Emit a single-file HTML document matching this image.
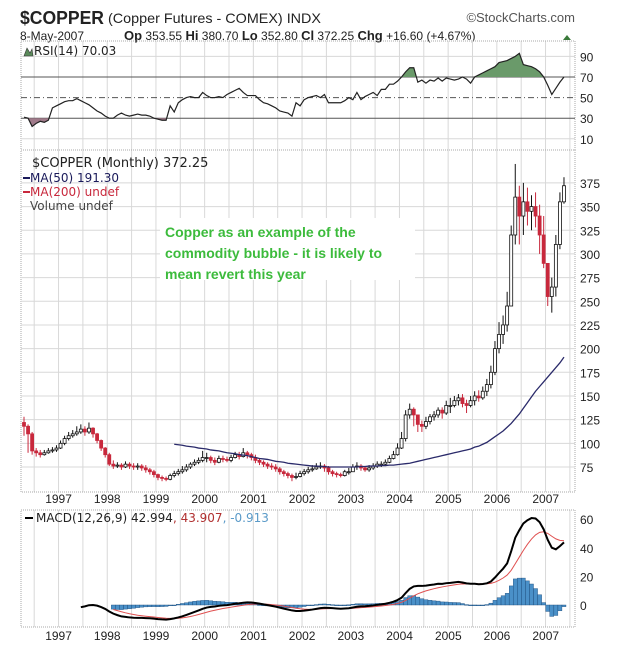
<!DOCTYPE html>
<html><head><meta charset="utf-8">
<style>
html,body{margin:0;padding:0;background:#fff;}
body{width:620px;height:650px;overflow:hidden;font-family:"Liberation Sans",sans-serif;}
svg text{font-family:"Liberation Sans",sans-serif;}
.mono{font-family:"DejaVu Sans",sans-serif;}
</style></head>
<body>
<svg id="chart" width="620" height="650" viewBox="0 0 620 650" xmlns="http://www.w3.org/2000/svg">
<text x="20" y="24" font-size="18" font-weight="bold" fill="#222" textLength="84" lengthAdjust="spacingAndGlyphs">$COPPER</text>
<text x="108" y="23" font-size="14" fill="#222" textLength="213" lengthAdjust="spacingAndGlyphs">(Copper Futures - COMEX) INDX</text>
<text x="575" y="22" font-size="13" fill="#555" text-anchor="end">©StockCharts.com</text>
<text x="20" y="40" font-size="12" fill="#222">8-May-2007</text>
<text x="124" y="40" font-size="12" fill="#222"><tspan font-weight="bold" font-size="13">Op</tspan> 353.55 <tspan font-weight="bold" font-size="13">Hi</tspan> 380.70 <tspan font-weight="bold" font-size="13">Lo</tspan> 352.80 <tspan font-weight="bold" font-size="13">Cl</tspan> 372.25 <tspan font-weight="bold" font-size="13">Chg</tspan> +16.60 (+4.67%)</text>
<polygon points="563,40 571,40 567,35" fill="#3a7a3a"/>
<g id="rsiG"></g>
<g id="mainG"></g>
<g id="macdG"></g>
</svg>
<script>
// ---- data (monthly, starting Apr 1996) ----
const startOpen = 122;
const closes = [
118,110,92,90,88,90,92,93,95,
100,105,108,110,112,115,112,116,110,103,95,88,
78,76,77,75,78,76,75,76,74,72,70,67,
64,63,62,66,68,70,72,75,78,80,82,85,
85,82,80,84,83,82,85,88,86,90,88,85,
82,80,78,76,75,73,70,68,66,64,65,68,
70,72,73,75,76,74,70,68,67,66,70,70,
75,76,74,72,74,76,78,78,80,84,88,95,
105,130,136,130,120,118,123,128,130,135,132,140,
140,145,148,142,140,145,150,148,155,162,175,200,
215,225,245,320,360,340,355,345,350,340,320,290,
255,265,310,355,372];
const highs = [
128,120,112,95,93,93,95,96,98,
103,108,112,114,118,120,118,122,117,111,104,96,
90,82,80,79,81,80,79,79,78,77,74,72,
68,66,65,68,71,73,76,78,80,83,85,92,
90,87,85,87,87,86,88,91,91,95,92,90,
88,84,82,80,79,78,75,72,70,68,69,71,
73,75,77,79,80,78,76,72,70,69,72,74,
78,80,78,76,77,79,81,81,83,87,92,100,
112,135,142,138,128,124,128,131,134,138,138,145,
148,150,152,152,146,150,155,156,160,168,182,208,
228,235,260,330,395,372,375,370,362,365,352,340,
290,275,320,365,381];
const lows = [
108,90,88,86,85,87,89,90,91,
94,98,103,106,108,110,108,110,106,100,92,85,
76,73,74,72,74,73,72,72,71,69,67,64,
61,60,60,61,64,66,68,70,73,76,78,80,
80,79,77,79,80,80,80,84,83,85,84,82,
79,77,75,73,72,70,67,65,63,60,62,64,
66,68,70,72,73,70,67,65,64,64,65,67,
70,72,71,70,70,72,74,75,76,79,83,87,
94,102,126,118,112,112,115,120,124,127,126,130,
132,138,140,138,132,138,140,144,146,150,158,172,
195,205,218,245,310,310,320,330,325,328,300,285,
245,238,255,305,353];
const ma50Start = 37;
const ma50 = [99,98.5,98,97,96.5,96,95,94.5,94,93,92.5,92,
91,90,89.5,89,88,87.5,87,86,85,84,83.5,83,
82,81,80.5,80,79,78.5,78,77.5,77,76.5,76,76,
75.5,75.5,75,75,75,75,75,75,75,75,75.5,75.5,
76,76,76,76.5,76.5,77,77,77.5,78,78.5,79,80,
81,82,83,84,85,86,87,88,89,90,91,92,
93,94,96,97,99,101,104,107,110,113,117,121,
126,131,137,143,149,155,160,165,170,175,180,185,191];
const rsi = [31,30,22,25,27,26,28,40,42,44,46,47,47,49,47,45,43,40,37,35,32,30,30,33,35,33,32,33,34,33,33,32,30,29,28,28,42,36,45,48,50,51,50,50,55,52,50,50,51,50,53,55,57,59,55,52,52,52,48,45,44,42,40,37,36,35,32,45,42,48,50,51,52,50,53,45,45,45,45,47,50,48,55,48,51,53,55,52,58,58,63,63,66,
70,75,79,79,65,67,64,67,66,69,66,69,68,67,68,70,68,
64,70,72,74,76,78,80,84,85,86,88,90,93,82,81,80,78,75,70,62,53,59,65,70];
const yearLabels = ['1997','1998','1999','2000','2001','2002','2003','2004','2005','2006','2007'];
const priceTicks = [75,100,125,150,175,200,225,250,275,300,325,350,375];
const rsiTicks = [10,30,50,70,90];
const macdTicks = [0,20,40,60];

// ---- scales ----
const L=21, R=575;
const xM = m => 24 + m*4.06;
const xYear = i => xM(9 + i*12) - 2;
const yP = p => 467 - (p-75)*0.947;
const yR = v => 77 + (70-v)*1.03;
const yD = v => 605 - v*1.43;
const NS='http://www.w3.org/2000/svg';
function mk(tag, attrs, parent){const e=document.createElementNS(NS,tag);for(const k in attrs)e.setAttribute(k,attrs[k]);parent.appendChild(e);return e;}

const rsiG=document.getElementById('rsiG'), mainG=document.getElementById('mainG'), macdG=document.getElementById('macdG');

function panel(g, top, bot, name){
  for(let i=-1;i<22;i++){
    const x = xYear(0) + i*24.35;
    if(x<=L||x>=R) continue;
    const ln=mk('line',{x1:x,x2:x,y1:top,y2:bot,stroke:'#d8d8d8','stroke-width':1},g);
    
    
  }
  const fr=mk('rect',{x:L,y:top,width:R-L,height:bot-top,fill:'none',stroke:'#aaa','stroke-width':1,'stroke-dasharray':'1,1'},g);
  
  
}

// ---- RSI panel ----
panel(rsiG,41,150,'rsi');
rsiTicks.forEach(t=>{
  const y=yR(t);
  const solid=(t===30||t===70), dash=(t===50);
  const ln=mk('line',{x1:L,x2:R,y1:y,y2:y,stroke:(solid||dash)?'#555':'#d8d8d8','stroke-width':1},rsiG);
  if(dash) ln.setAttribute('stroke-dasharray','6,3,1,3');
  
  
  const tx=mk('text',{x:580,y:y+5,'font-size':12,fill:'#222'},rsiG);
  tx.textContent=t;
  
  
});
(function(){
  const pts=rsi.map((v,i)=>[xM(i),yR(v)]);
  const fillPoly=(cond,thr,color,nm)=>{
    let seg=[];
    const flush=()=>{ if(seg.length>1){
        const y0=yR(thr);
        const d='M'+seg[0][0]+','+y0+' '+seg.map(p=>'L'+p[0]+','+p[1]).join(' ')+' L'+seg[seg.length-1][0]+','+y0+'Z';
        const p=mk('path',{d:d,fill:color,stroke:'none'},rsiG);
        
        
      } seg=[]; };
    for(let i=0;i<rsi.length;i++){
      if(cond(rsi[i])){
        if(!seg.length && i>0){const a=rsi[i-1],b=rsi[i];const t=(thr-a)/(b-a);seg.push([xM(i-1)+t*4.06,yR(thr)]);}
        seg.push(pts[i]);
      } else if(seg.length){const a=rsi[i-1],b=rsi[i];const t=(thr-a)/(b-a);seg.push([xM(i-1)+t*4.06,yR(thr)]);flush();}
    }
    flush();
  };
  fillPoly(v=>v>70,70,'#6a9a6a','rsi-overbought-fill');
  fillPoly(v=>v<30,30,'#a07a8a','rsi-oversold-fill');
})();
const rsiLine=mk('polyline',{points:rsi.map((v,i)=>xM(i)+','+yR(v)).join(' '),fill:'none',stroke:'#222','stroke-width':1.2},rsiG);


const rsiLbl=mk('text',{x:34,y:55,'font-size':12,fill:'#222',class:'mono'},rsiG);
rsiLbl.textContent='RSI(14) 70.03';


const rsiIc=mk('path',{d:'M24,56 L27,48 L30,53 L32,49 L33,56Z',fill:'#5a8a5a',stroke:'#333','stroke-width':0.6},rsiG);



// ---- Price panel ----
panel(mainG,150,492,'price');
priceTicks.forEach(t=>{
  const y=yP(t);
  const ln=mk('line',{x1:L,x2:R,y1:y,y2:y,stroke:'#d8d8d8','stroke-width':1},mainG);
  
  
  const tx=mk('text',{x:580,y:y+5,'font-size':12,fill:'#222'},mainG);
  tx.textContent=t;
  
  
});
const annBg=mk('rect',{x:160,y:218,width:255,height:62,fill:'#fff'},mainG);


['Copper as an example of the','commodity bubble - it is likely to','mean revert this year'].forEach((s,i)=>{
  const t=mk('text',{x:165,y:237+i*21,'font-size':14,'font-weight':'bold',fill:'#3cbb3c'},mainG);
  t.textContent=s;
  
  
});
closes.forEach((c,i)=>{
  const o = i===0?startOpen:closes[i-1];
  const x=xM(i);
  const down = c<o;
  const col = down?'#c8283c':'#111';
  const w=mk('line',{x1:x,x2:x,y1:yP(highs[i]),y2:yP(lows[i]),stroke:col,'stroke-width':1},mainG);
  
  
  const top=yP(Math.max(o,c)), bot=yP(Math.min(o,c));
  const b=mk('rect',{x:x-1.5,y:top,width:3,height:Math.max(1,bot-top),fill:down?col:'#fff',stroke:col,'stroke-width':0.8},mainG);
  
  
});
const maLine=mk('polyline',{points:ma50.map((v,i)=>xM(i+ma50Start)+','+yP(v)).join(' '),fill:'none',stroke:'#2a2a6a','stroke-width':1.3},mainG);


[['$COPPER (Monthly) 372.25','#222',167],['MA(50) 191.30','#1a1a5a',182],['MA(200) undef','#c8283c',196],['Volume undef','#444',210]].forEach((a,i)=>{
  const t=mk('text',{x:i===0?32:30,y:a[2],'font-size':i===0?13:12,fill:a[1],class:'mono'},mainG);
  t.textContent=a[0];
  
  
  if(i===1||i===2){
    const m=mk('line',{x1:23,x2:30,y1:a[2]-4,y2:a[2]-4,stroke:a[1],'stroke-width':2},mainG);
    
    
  }
});
yearLabels.forEach((s,i)=>{
  [503,640].forEach(yy=>{
    const t=mk('text',{x:xYear(i),y:yy,'font-size':12,fill:'#222','text-anchor':'middle'},mainG);
    t.textContent=s;
    
    
  });
});

// ---- MACD panel ----
panel(macdG,510,627,'macd');
function ema(arr,n){const k=2/(n+1);const out=[];let e=arr[0];arr.forEach((v,i)=>{e=i===0?v:v*k+e*(1-k);out.push(e);});return out;}
const e12=ema(closes,12), e26=ema(closes,26);
const macd=closes.map((_,i)=>e12[i]-e26[i]);
const sig=ema(macd,9);
const hist=macd.map((v,i)=>v-sig[i]);
macdTicks.forEach(t=>{
  const tx=mk('text',{x:580,y:yD(t)+5,'font-size':12,fill:'#222'},macdG);
  tx.textContent=t;
  
  
});
const macdStart=14, sigStart=22;
for(let i=sigStart;i<hist.length;i++){
  const v=hist[i];
  const b=mk('rect',{x:xM(i)-2,y:Math.min(yD(0),yD(v)),width:4,height:Math.max(0.8,Math.abs(yD(v)-yD(0))),fill:'#4a90c8',stroke:'#1a4a7a','stroke-width':0.4},macdG);
  
  
}
const sigLine=mk('polyline',{points:sig.slice(sigStart).map((v,i)=>xM(i+sigStart)+','+yD(v)).join(' '),fill:'none',stroke:'#e05050','stroke-width':1},macdG);


const macdLine=mk('polyline',{points:macd.slice(macdStart).map((v,i)=>xM(i+macdStart)+','+yD(v)).join(' '),fill:'none',stroke:'#000','stroke-width':2},macdG);


const mLbl=mk('text',{x:36,y:522,'font-size':12,fill:'#222',class:'mono'},macdG);
mLbl.innerHTML='MACD(12,26,9) 42.994<tspan fill="#b03030">, 43.907</tspan><tspan fill="#5a9ac8">, -0.913</tspan>';


const mMk=mk('line',{x1:25,x2:33,y1:518,y2:518,stroke:'#000','stroke-width':2},macdG);


</script>
</body></html>
